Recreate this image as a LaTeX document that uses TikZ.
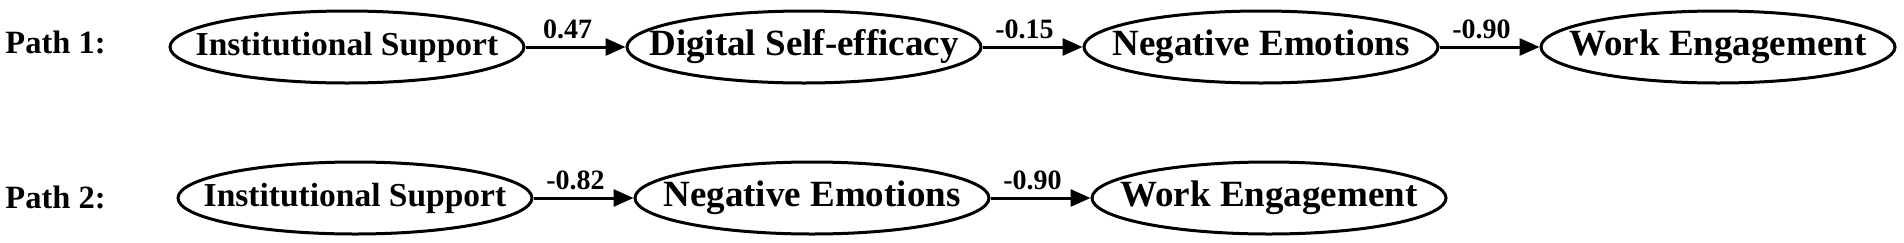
\documentclass[tikz,border=0pt]{standalone}
\usepackage{fontspec}
\setmainfont{Liberation Serif}
\usepackage{tikz}
\usetikzlibrary{arrows.meta, positioning, shapes.geometric}

\begin{document}
\begin{tikzpicture}[
    x=0.5pt, y=0.5pt,
    node distance=50pt,
    var/.style={draw, ellipse, line width=1.5pt, minimum width=177pt, minimum height=36pt,
      inner xsep=-20pt, inner ysep=0pt, font=\fontsize{18.5}{20}\selectfont\bfseries},
    smallvar/.style={var, font=\fontsize{16.75}{19}\selectfont\bfseries},
    pathlabel/.style={anchor=base west, inner sep=0pt, font=\fontsize{16.25}{18}\selectfont\bfseries},
    coef/.style={above, pos=0.42, font=\fontsize{14}{16}\selectfont\bfseries},
    arr/.style={-{Triangle[length=10pt,width=8.5pt]}, line width=1.5pt}
  ]
    \useasboundingbox (0,0) rectangle (1904,-242);
    \node[pathlabel] (p1) at (5,-53) {Path 1:};
    \node[smallvar] (is1) at (347,-47) {Institutional Support};
    \node[var, right=of is1] (dse1) {Digital Self-efficacy};
    \node[var, right=of dse1] (ne1) {Negative Emotions};
    \node[var, right=of ne1] (we1) {Work Engagement};
    \draw[arr] (is1) -- node[coef] {0.47} (dse1);
    \draw[arr] (dse1) -- node[coef] {-0.15} (ne1);
    \draw[arr] (ne1) -- node[coef] {-0.90} (we1);
    \node[pathlabel] (p2) at (5,-208) {Path 2:};
    \node[smallvar] (is2) at (355,-198) {Institutional Support};
    \node[var, right=of is2] (ne2) {Negative Emotions};
    \node[var, right=of ne2] (we2) {Work Engagement};
    \draw[arr] (is2) -- node[coef] {-0.82} (ne2);
    \draw[arr] (ne2) -- node[coef] {-0.90} (we2);
  \end{tikzpicture}
\end{document}
